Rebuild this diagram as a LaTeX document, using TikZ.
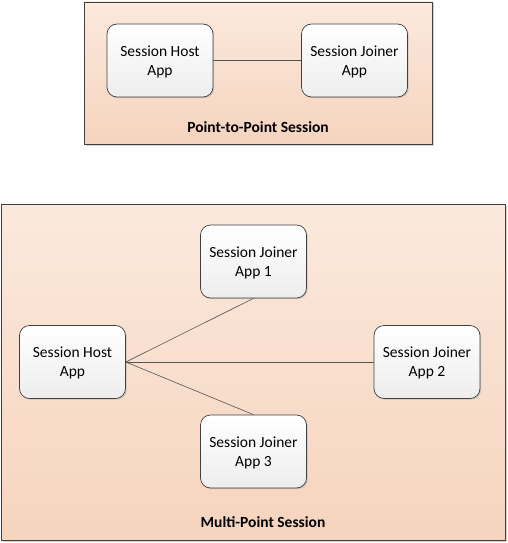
\documentclass[tikz,border=0pt]{standalone}
\usepackage{fontspec}
\setmainfont{Carlito}
\usetikzlibrary{shadows}
\definecolor{peachhaut}{RGB}{251,233,221}
\definecolor{peachbas}{RGB}{246,212,190}
\definecolor{bord}{RGB}{64,64,64}
\tikzstyle{cadre}           =[draw=bord, line width=0.8pt, top color=peachhaut, bottom color=peachbas, drop shadow={shadow xshift=1.5pt, shadow yshift=-1.5pt, opacity=0.35}]
\tikzstyle{appli}           =[draw=bord, line width=0.7pt, rounded corners=10pt, top color=white, bottom color=gray!14, minimum width=106pt, minimum height=73pt, inner sep=0pt, align=center, text depth=0pt, font=\fontsize{15.5}{19}\selectfont, drop shadow={shadow xshift=1.2pt, shadow yshift=-1.2pt, opacity=0.3}]
\tikzstyle{lien}            =[draw=bord!90, line width=0.6pt]
\tikzstyle{titre}           =[font=\fontsize{15.5}{19}\selectfont\bfseries]

\begin{document}
\begin{tikzpicture}[x=1pt,y=-1pt]

\useasboundingbox (0,0) rectangle (507,543);

%%%%%%%%%%%%%%%%%%%%%%%%
%Session point à point
%%%%%%%%%%%%%%%%%%%%%%%%
\fill[cadre] (84,2) rectangle (432,144);

\node[appli] (hote) at (160,60.5) {Session Host\\App};
\node[appli] (invite) at (354.5,60.5) {Session Joiner\\App};
\draw[lien] (hote.east)--(invite.west);

\node[titre] (titrepp) at (258,127) {Point-to-Point Session};

%%%%%%%%%%%%%%%%%%%%%%%%
%Session multipoint
%%%%%%%%%%%%%%%%%%%%%%%%
\fill[cadre] (1,204) rectangle (505,540);

\node[appli] (hotemp) at (72.5,362) {Session Host\\App};
\node[appli] (inviteA) at (253.5,261.5) {Session Joiner\\App 1};
\node[appli] (inviteB) at (427,362) {Session Joiner\\App 2};
\node[appli] (inviteC) at (253.5,451.5) {Session Joiner\\App 3};

\draw[lien] (hotemp.east)--(inviteA.south);
\draw[lien] (hotemp.east)--(inviteB.west);
\draw[lien] (hotemp.east)--(inviteC.north);

\node[titre] (titremp) at (263,522) {Multi-Point Session};

\end{tikzpicture}
\end{document}
